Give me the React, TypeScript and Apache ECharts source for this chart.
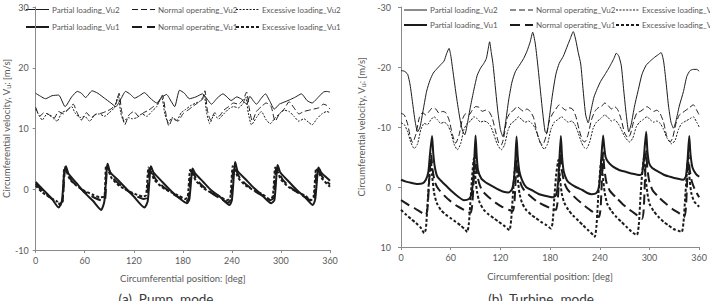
import React, { useEffect, useRef } from "react";
import * as echarts from "echarts";

type Pt = [number, number];

// ---- shared labels ----
const seriesNames = [
  "Partial loading_Vu2",
  "Normal operating_Vu2",
  "Excessive loading_Vu2",
  "Partial loading_Vu1",
  "Normal operating_Vu1",
  "Excessive loading_Vu1",
];
const xAxisTitle = "Circumferential position: [deg]";
const yAxisTitle = "Circumferential velocity, V{s|u}: [m/s]";
const captions = ["(a)  Pump  mode", "(b)  Turbine  mode"];

// ---- (a) pump mode ----
const pumpPartialVu2: Pt[] = [
  [0, 15.8], [6, 15.3], [12, 14.9], [20, 15.4], [28, 15.5], [36, 13.6], [44, 15.2], [51, 16.1], [56, 15.8],
  [61, 15.1], [69, 16.2], [76, 15.8], [84, 15.0], [92, 14.2], [98, 13.6], [104, 14.8], [110, 16.1], [116, 15.6],
  [121, 15.0], [127, 15.4], [133, 15.9], [140, 15.0], [148, 14.2], [154, 15.1], [160, 15.6], [166, 14.4],
  [170, 13.6], [176, 16.3], [182, 15.8], [188, 14.9], [196, 15.2], [204, 15.7], [210, 14.8], [215, 14.0],
  [222, 15.0], [229, 15.7], [234, 15.2], [239, 14.6], [246, 15.2], [252, 14.8], [258, 14.0], [262, 15.3],
  [266, 14.6], [270, 14.0], [276, 15.0], [281, 15.7], [286, 14.6], [292, 13.2], [298, 14.0], [305, 14.4],
  [312, 14.8], [318, 15.2], [325, 15.7], [332, 14.6], [338, 14.2], [346, 15.2], [352, 16.0], [356, 16.1], [360, 16.0],
];
const pumpNormalVu2: Pt[] = [
  [0, 13.5], [5, 12.0], [10, 12.6], [16, 12.3], [22, 11.6], [28, 12.8], [34, 12.4], [40, 13.2], [46, 14.0],
  [50, 12.8], [56, 11.4], [62, 12.6], [68, 11.8], [74, 12.4], [80, 12.5], [86, 12.8], [92, 13.2], [98, 14.0],
  [102, 15.8], [105, 13.0], [109, 10.6], [114, 12.2], [120, 12.8], [126, 12.0], [132, 12.6], [138, 13.0],
  [144, 13.6], [150, 14.2], [155, 15.5], [159, 12.6], [163, 10.4], [168, 11.8], [174, 11.2], [180, 12.4],
  [186, 13.0], [192, 13.6], [198, 14.2], [204, 14.8], [207, 16.2], [210, 13.0], [214, 11.4], [219, 12.6],
  [224, 12.0], [230, 13.0], [236, 13.6], [242, 14.2], [248, 14.0], [254, 14.8], [258, 16.0], [261, 13.5],
  [265, 11.2], [270, 12.8], [276, 13.6], [282, 14.2], [288, 13.6], [293, 11.2], [298, 12.4], [304, 13.2],
  [310, 14.4], [316, 13.4], [322, 12.4], [328, 12.8], [334, 13.0], [340, 13.2], [346, 13.4], [352, 14.0],
  [356, 13.8], [360, 13.2],
];
const pumpExcessiveVu2: Pt[] = [
  [0, 13.2], [4, 12.2], [8, 11.4], [14, 12.4], [20, 12.0], [26, 11.2], [32, 12.6], [38, 13.0], [44, 13.6],
  [48, 12.6], [54, 11.8], [60, 12.0], [66, 11.2], [72, 12.2], [78, 12.4], [84, 12.0], [90, 12.6], [96, 13.4],
  [101, 15.4], [104, 12.6], [108, 11.2], [113, 11.8], [118, 11.6], [124, 11.8], [130, 12.4], [136, 12.0],
  [142, 12.8], [148, 13.6], [154, 15.2], [158, 12.4], [162, 11.0], [167, 11.8], [172, 11.2], [178, 12.6],
  [184, 13.2], [190, 13.8], [196, 14.2], [202, 14.6], [206, 15.6], [209, 12.6], [213, 10.8], [218, 12.2],
  [224, 11.6], [230, 12.4], [236, 13.2], [242, 13.6], [248, 13.4], [254, 14.2], [257, 15.2], [260, 12.6],
  [264, 10.6], [270, 11.8], [276, 12.8], [282, 11.4], [287, 10.8], [292, 11.6], [298, 12.4], [304, 13.0],
  [310, 12.8], [316, 12.0], [322, 11.2], [328, 11.6], [334, 11.0], [338, 10.6], [344, 11.6], [350, 12.4],
  [356, 12.8], [360, 12.6],
];
const pumpPartialVu1: Pt[] = [
  [0, 1.2], [10, -0.2], [20, -1.6], [28, -3.0], [32, -2.0], [35, 2.8], [37, 3.8], [40, 2.6], [50, 1.0],
  [60, -0.6], [70, -1.9], [80, -3.4], [84, -2.0], [87, 3.4], [88, 4.2], [91, 2.8], [100, 1.6], [110, 0.2],
  [120, -1.2], [133, -3.0], [137, -2.0], [140, 3.0], [141, 3.8], [144, 2.8], [155, 1.2], [165, -0.2],
  [175, -1.4], [185, -2.3], [188, -1.6], [191, 2.8], [192, 3.4], [195, 2.6], [205, 1.2], [215, -0.2],
  [225, -1.2], [237, -2.6], [240, -1.8], [243, 3.4], [244, 4.5], [247, 3.0], [257, 1.6], [267, 0.2],
  [277, -1.0], [288, -2.3], [292, -1.8], [295, 3.2], [296, 4.0], [299, 2.8], [310, 1.2], [320, -0.2],
  [330, -1.4], [339, -2.6], [342, -1.6], [345, 3.0], [346, 3.6], [349, 2.8], [355, 2.0], [360, 1.4],
];
const pumpNormalVu1: Pt[] = [
  [0, 0.9], [8, -0.2], [18, -1.4], [26, -2.2], [30, -2.4], [33, -1.8], [36, 3.2], [38, 3.0], [44, 1.4],
  [52, 0.4], [62, -0.6], [72, -1.4], [80, -1.8], [85, -1.6], [87, 3.6], [89, 3.4], [95, 1.8], [104, 0.6],
  [114, -0.4], [124, -1.2], [132, -1.6], [136, -1.4], [139, 3.4], [141, 3.2], [147, 1.6], [156, 0.4],
  [166, -0.6], [176, -1.4], [184, -2.0], [187, -1.6], [190, 3.0], [192, 2.8], [198, 1.4], [207, 0.2],
  [217, -0.8], [227, -1.6], [235, -2.2], [239, -1.6], [242, 3.6], [244, 3.4], [250, 1.8], [259, 0.6],
  [269, -0.4], [279, -1.2], [287, -1.8], [291, -1.4], [294, 3.4], [296, 3.2], [302, 1.6], [311, 0.4],
  [321, -0.6], [331, -1.4], [338, -2.0], [341, -1.4], [344, 3.2], [346, 3.0], [352, 1.8], [360, 0.8],
];
const pumpExcessiveVu1: Pt[] = [
  [0, 0.6], [8, -0.5], [18, -1.4], [26, -2.0], [30, -2.6], [33, -2.0], [35, 3.6], [37, 3.2], [42, 1.6],
  [50, 0.6], [60, -0.3], [70, -0.9], [78, -1.3], [84, -1.2], [86, 3.8], [88, 3.4], [93, 1.8], [102, 0.6],
  [112, -0.2], [122, -0.8], [131, -1.2], [135, -1.0], [138, 3.6], [140, 3.2], [145, 1.6], [154, 0.4],
  [164, -0.4], [174, -1.0], [183, -1.6], [186, -1.2], [189, 3.2], [191, 2.8], [196, 1.4], [205, 0.2],
  [215, -0.6], [225, -1.2], [234, -1.8], [238, -1.4], [241, 3.8], [243, 3.4], [248, 1.8], [257, 0.6],
  [267, -0.2], [277, -0.8], [286, -1.6], [290, -1.2], [293, 3.6], [295, 3.2], [300, 1.6], [309, 0.4],
  [319, -0.4], [329, -1.0], [337, -1.8], [340, -1.2], [343, 3.4], [345, 3.0], [350, 1.8], [360, 0.4],
];

// ---- (b) turbine mode ----
const turbPartialVu2: Pt[] = [
  [0, -19.4], [4, -19.3], [8, -18.8], [11, -17.0], [14, -14.0], [17, -11.0], [20, -9.2], [23, -10.0],
  [27, -13.0], [31, -16.0], [35, -17.8], [39, -19.0], [44, -19.8], [48, -20.4], [52, -21.0], [55, -22.2],
  [58, -23.1], [60, -22.0], [63, -19.0], [67, -15.0], [71, -11.5], [74, -9.5], [77, -8.7], [80, -10.5],
  [84, -13.5], [88, -16.2], [92, -18.6], [96, -19.8], [100, -20.6], [103, -21.4], [105, -22.8], [107, -24.2],
  [109, -22.4], [111, -20.6], [114, -16.5], [117, -12.5], [120, -9.6], [123, -8.4], [126, -10.5], [130, -14.5],
  [134, -17.5], [138, -19.2], [143, -20.3], [148, -21.4], [152, -22.6], [156, -24.2], [159, -25.8], [162, -24.0],
  [165, -20.5], [168, -16.5], [171, -12.5], [174, -9.2], [176, -9.0], [179, -11.5], [183, -15.5], [187, -18.8],
  [191, -20.6], [196, -21.8], [200, -23.2], [204, -24.6], [208, -25.9], [211, -24.5], [214, -22.4], [217, -20.5],
  [220, -16.0], [223, -12.0], [226, -10.7], [229, -12.5], [233, -15.0], [237, -16.4], [241, -17.6], [246, -18.7],
  [250, -19.6], [254, -20.6], [257, -21.4], [260, -22.3], [263, -21.8], [266, -20.2], [269, -16.0], [272, -12.0],
  [275, -9.2], [278, -10.5], [282, -13.5], [287, -16.5], [291, -18.8], [296, -20.3], [301, -21.0], [306, -21.6],
  [310, -22.0], [314, -22.4], [317, -21.0], [320, -17.5], [323, -13.5], [326, -10.8], [329, -9.8], [332, -11.0],
  [336, -13.5], [341, -15.9], [345, -18.4], [349, -19.4], [353, -19.6], [357, -19.6], [360, -19.3],
];
const turbNormalVu2: Pt[] = [
  [0, -12.3], [4, -12.0], [8, -10.5], [11, -8.5], [14, -7.4], [18, -8.8], [22, -11.5], [26, -12.4], [30, -12.0],
  [34, -12.6], [38, -13.2], [42, -13.0], [46, -12.3], [50, -12.6], [54, -12.4], [58, -11.2], [62, -8.8], [66, -7.3],
  [70, -8.6], [74, -11.2], [78, -12.2], [82, -12.0], [86, -12.8], [90, -13.4], [94, -13.3], [98, -12.6], [102, -12.8],
  [106, -12.6], [110, -11.6], [114, -9.4], [118, -7.3], [121, -7.0], [124, -8.2], [128, -11.4], [132, -12.4],
  [136, -12.8], [140, -13.4], [144, -13.0], [148, -12.6], [152, -13.0], [156, -12.6], [160, -11.6], [164, -9.2],
  [168, -7.4], [171, -7.0], [175, -8.4], [179, -11.0], [183, -12.2], [187, -13.0], [191, -13.7], [195, -13.2],
  [199, -12.8], [203, -13.2], [207, -13.0], [211, -11.8], [215, -9.6], [219, -7.8], [222, -7.5], [226, -8.8],
  [230, -11.2], [234, -12.6], [238, -13.2], [242, -13.4], [246, -14.0], [250, -13.6], [254, -13.0], [258, -13.4],
  [262, -12.8], [266, -11.2], [270, -9.0], [274, -8.2], [277, -8.8], [281, -11.0], [285, -12.4], [289, -12.6],
  [293, -13.0], [297, -13.4], [301, -13.0], [305, -12.6], [309, -12.8], [313, -12.2], [317, -10.8], [321, -8.4],
  [325, -7.5], [328, -8.2], [332, -10.6], [336, -12.0], [340, -12.4], [344, -12.8], [348, -13.2], [353, -13.7],
  [357, -12.8], [360, -12.0],
];
const turbExcessiveVu2: Pt[] = [
  [0, -10.7], [4, -10.4], [8, -9.2], [12, -7.4], [16, -6.4], [20, -7.2], [24, -9.6], [28, -10.6], [32, -10.4],
  [36, -11.2], [40, -11.7], [44, -11.2], [48, -10.6], [52, -10.8], [56, -10.4], [60, -9.2], [64, -7.2], [68, -6.2],
  [72, -7.2], [76, -9.6], [80, -10.6], [84, -11.0], [88, -11.7], [92, -11.4], [96, -10.8], [100, -11.0],
  [104, -10.8], [108, -10.2], [112, -8.8], [116, -7.2], [121, -6.2], [125, -7.0], [129, -9.4], [133, -10.6],
  [137, -11.0], [142, -11.7], [146, -11.2], [150, -10.8], [154, -11.0], [158, -10.6], [162, -9.8], [166, -8.2],
  [170, -6.8], [173, -6.3], [177, -7.2], [181, -9.6], [185, -10.8], [189, -11.2], [194, -11.7], [198, -11.2],
  [202, -10.8], [206, -11.0], [210, -10.4], [214, -9.0], [218, -7.4], [221, -6.6], [224, -6.4], [228, -7.6],
  [232, -9.8], [236, -10.8], [241, -11.4], [246, -12.0], [250, -11.6], [254, -11.0], [258, -11.2], [262, -10.6],
  [266, -9.6], [270, -8.4], [276, -7.5], [280, -8.2], [284, -10.0], [288, -10.8], [292, -11.2], [297, -11.7],
  [301, -11.2], [305, -10.8], [309, -11.0], [313, -10.6], [317, -9.6], [321, -8.2], [327, -7.2], [331, -7.8],
  [335, -9.6], [339, -10.6], [344, -11.0], [349, -11.4], [353, -11.7], [357, -10.8], [360, -10.0],
];
const turbPartialVu1: Pt[] = [
  [0, -1.2], [6, -0.9], [12, -0.7], [20, -0.5], [26, -0.6], [30, -1.2], [33, -2.5], [35, -5.5], [37.5, -8.5],
  [39, -5.5], [41, -3.2], [44, -1.7], [50, -0.8], [56, 0.0], [62, 0.8], [68, 1.5], [76, 2.2], [82, 2.0],
  [85, 1.2], [87, -1.0], [88.5, -4.5], [90, -8.6], [91.5, -5.0], [93, -2.8], [97, -1.4], [102, -0.8],
  [108, -0.3], [116, 0.3], [124, 0.8], [130, 0.9], [134, 0.4], [136.5, -1.5], [138, -4.5], [139.5, -8.4],
  [141, -5.0], [143, -2.6], [146, -1.2], [151, 0.0], [159, 0.6], [167, 1.2], [175, 1.5], [183, 1.7],
  [187, 1.4], [189.5, -0.5], [191, -4.0], [193, -8.5], [194.5, -5.0], [196.5, -2.6], [200, -1.2], [203, -0.7],
  [211, 0.0], [219, 0.5], [225, 1.0], [230, 1.2], [236, 1.0], [239, 0.0], [241, -3.0], [244, -8.6],
  [245.5, -6.5], [247, -5.0], [250, -4.2], [256, -3.4], [264, -2.8], [272, -2.5], [280, -2.2], [288, -2.0],
  [291, -2.2], [293, -4.5], [296, -9.2], [297.5, -6.0], [299.5, -4.0], [303, -3.2], [310, -2.6], [318, -2.0],
  [325, -1.7], [333, -1.4], [341, -1.2], [344, -1.8], [346, -4.5], [348, -8.5], [349.5, -5.5], [352, -3.2],
  [356, -2.2], [360, -1.7],
];
const turbNormalVu1: Pt[] = [
  [0, 2.2], [8, 2.9], [16, 3.5], [24, 4.2], [30, 4.7], [32, 3.5], [34, -1.0], [36.5, -5.5], [38, -3.0],
  [41, -0.8], [45, 0.3], [52, 1.4], [60, 2.4], [68, 3.2], [76, 3.8], [84, 4.3], [86, 3.0], [88, -1.5],
  [89.5, -5.8], [91, -3.0], [94, -0.8], [98, 0.6], [106, 1.7], [114, 2.6], [122, 3.3], [130, 3.8], [135, 4.0],
  [137, 2.5], [138.5, -1.5], [140, -5.5], [141.5, -2.8], [144, -0.8], [148, 0.4], [156, 1.5], [164, 2.4],
  [172, 3.0], [180, 3.5], [187, 3.8], [189, 2.5], [191, -1.5], [192.5, -5.6], [194, -3.0], [197, -0.8],
  [201, 0.4], [209, 1.6], [217, 2.6], [225, 3.5], [233, 4.3], [239, 5.0], [241, 3.5], [242.5, -1.0],
  [244, -5.8], [245.5, -3.0], [248, -0.8], [252, 0.6], [260, 1.8], [268, 2.9], [276, 3.8], [284, 4.6],
  [291, 5.3], [293, 3.8], [294.5, -1.0], [296, -6.0], [297.5, -3.0], [300, -0.8], [304, 0.6], [312, 1.8],
  [320, 2.8], [328, 3.7], [336, 4.4], [342, 5.0], [344, 3.5], [345.5, -1.0], [347, -5.6], [348.5, -3.0],
  [351, -1.0], [355, 0.5], [360, 1.7],
];
const turbExcessiveVu1: Pt[] = [
  [0, 3.8], [6, 4.6], [12, 5.3], [18, 6.0], [24, 6.8], [28, 7.7], [30, 7.0], [32, 3.0], [34, -1.5], [36, -4.5],
  [37.5, -2.0], [40, 1.0], [43, 2.6], [48, 3.8], [54, 4.6], [60, 5.2], [66, 5.8], [72, 6.4], [78, 7.2],
  [80, 7.5], [82, 6.0], [84, 2.0], [86, -2.0], [88, -4.8], [89.5, -2.0], [92, 1.0], [95, 2.6], [100, 3.8],
  [106, 4.6], [112, 5.2], [118, 5.8], [124, 6.4], [129, 7.0], [131, 7.2], [133, 5.5], [135, 1.5], [137, -2.5],
  [139, -4.6], [140.5, -2.0], [143, 1.0], [146, 2.6], [151, 3.8], [157, 4.6], [163, 5.2], [169, 5.8],
  [175, 6.3], [181, 6.9], [183, 6.0], [185, 2.0], [187.5, -2.2], [190, -4.5], [191.5, -2.0], [194, 1.0],
  [197, 2.6], [202, 3.8], [208, 4.8], [214, 5.6], [220, 6.4], [226, 7.2], [232, 8.0], [234, 8.3], [236, 6.5],
  [238, 2.0], [240, -2.0], [242, -4.8], [243.5, -2.0], [246, 1.0], [249, 2.8], [254, 4.0], [260, 5.0],
  [266, 5.8], [272, 6.6], [278, 7.4], [283, 7.9], [285, 8.0], [287, 6.5], [289, 2.0], [291, -2.0],
  [293.5, -5.0], [295, -2.0], [297.5, 1.0], [300, 2.8], [305, 4.0], [311, 5.0], [317, 5.8], [323, 6.4],
  [329, 7.0], [335, 7.3], [339, 7.5], [341, 6.0], [343, 2.0], [345, -2.0], [346.5, -4.6], [348, -2.0],
  [350.5, 1.0], [354, 2.4], [360, 3.3],
];

const pumpSeries = [pumpPartialVu2, pumpNormalVu2, pumpExcessiveVu2, pumpPartialVu1, pumpNormalVu1, pumpExcessiveVu1];
const turbSeries = [turbPartialVu2, turbNormalVu2, turbExcessiveVu2, turbPartialVu1, turbNormalVu1, turbExcessiveVu1];

// ---- look ----
const FONT = 'Lato, "Noto Sans", sans-serif';
const INK = "#1b1b1b";
const AXIS = "#8a8a8a";
const TEXT = "#595959";

const strokes: { width: number; dash: number[] | null }[] = [
  { width: 1, dash: null },
  { width: 1, dash: [6, 3] },
  { width: 1, dash: [2, 1.4] },
  { width: 2, dash: null },
  { width: 2, dash: [10, 5] },
  { width: 2, dash: [3, 2] },
];

const grids = [
  { left: 23, top: 7, width: 307, height: 243 },
  { left: 401, top: 7, width: 303, height: 240 },
];
// legend key columns (left end of the sample line) and row centres
const legendCols = [
  [26, 132, 236],
  [404, 510, 616],
];
const legendRows = [
  [9.5, 27],
  [10, 25],
];
const captionX = [166, 541];

function xAxisFor(gridIndex: number) {
  return {
    type: "value",
    gridIndex,
    min: 0,
    max: 360,
    interval: 60,
    name: xAxisTitle,
    nameLocation: "middle",
    nameGap: gridIndex === 0 ? 23 : 24,
    nameTextStyle: { fontSize: 9.5, color: TEXT, fontFamily: FONT },
    axisLine: { onZero: false, lineStyle: { color: AXIS, width: 1 } },
    axisTick: { length: 3, lineStyle: { color: AXIS } },
    axisLabel: { fontSize: 9, color: TEXT, fontFamily: FONT, margin: 6 },
    splitLine: { show: false },
  };
}

function yAxisFor(gridIndex: number) {
  const turbine = gridIndex === 1;
  return {
    type: "value",
    gridIndex,
    min: turbine ? -30 : -10,
    max: turbine ? 10 : 30,
    interval: 10,
    inverse: turbine,
    name: yAxisTitle,
    nameLocation: "middle",
    nameGap: turbine ? 35 : 18,
    nameTextStyle: {
      fontSize: 9.5,
      color: TEXT,
      fontFamily: FONT,
      rich: { s: { fontSize: 7, color: TEXT, fontFamily: FONT, verticalAlign: "bottom" } },
    },
    axisLine: { show: true, lineStyle: { color: AXIS, width: 1 } },
    axisTick: { show: true, length: 3, lineStyle: { color: AXIS } },
    axisLabel: { fontSize: 9, color: TEXT, fontFamily: FONT, margin: turbine ? 10 : 7 },
    splitLine: { show: false },
  };
}

export default function App() {
  const ref = useRef<HTMLDivElement>(null);

  useEffect(() => {
    if (!ref.current) return;
    const chart = echarts.init(ref.current, null, { renderer: "svg" });

    const series: any[] = [];
    [pumpSeries, turbSeries].forEach((group, g) => {
      group.forEach((data, i) => {
        series.push({
          type: "line",
          name: seriesNames[i],
          xAxisIndex: g,
          yAxisIndex: g,
          data,
          symbol: "none",
          smooth: 0.2,
          silent: true,
          lineStyle: { color: INK, width: strokes[i].width, type: strokes[i].dash ?? "solid" },
          z: 3 + i,
        });
      });
    });

    // legend keys: a sample stroke followed by the series name
    const keys: any[] = [];
    [0, 1].forEach((g) => {
      seriesNames.forEach((name, i) => {
        const x = legendCols[g][i % 3];
        const y = legendRows[g][i < 3 ? 0 : 1];
        keys.push({
          type: "line",
          silent: true,
          shape: { x1: x, y1: y, x2: x + 23, y2: y },
          style: {
            stroke: INK,
            lineWidth: strokes[i].width,
            lineDash: strokes[i].dash ?? undefined,
          },
        });
        keys.push({
          type: "text",
          silent: true,
          x: x + 26,
          y,
          style: {
            text: name,
            fontSize: 8,
            fontFamily: FONT,
            fill: TEXT,
            align: "left",
            verticalAlign: "middle",
          },
        });
      });
    });

    const captionTexts = captions.map((text, g) => ({
      type: "text",
      x: captionX[g],
      y: 292,
      silent: true,
      style: {
        text,
        fontSize: 13.5,
        fontFamily: FONT,
        fill: "#3a3a3a",
        align: "center",
        verticalAlign: "top",
      },
    }));

    chart.setOption({
      animation: false,
      backgroundColor: "#ffffff",
      grid: grids.map((gr) => ({ ...gr, containLabel: false })),
      xAxis: [xAxisFor(0), xAxisFor(1)],
      yAxis: [yAxisFor(0), yAxisFor(1)],
      series,
      graphic: [...keys, ...captionTexts],
    });

    return () => chart.dispose();
  }, []);

  return (
    <div
      ref={ref}
      style={{ position: "fixed", left: 0, top: 0, width: 710, height: 301, background: "#fff" }}
    />
  );
}
